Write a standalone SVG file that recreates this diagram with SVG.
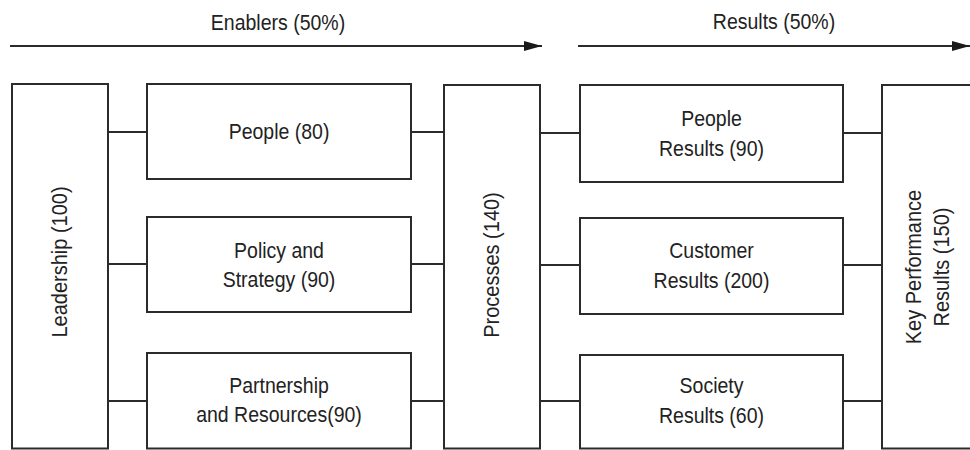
<svg xmlns="http://www.w3.org/2000/svg" width="970" height="450" viewBox="0 0 970 450">
  <style>
    .box { fill: #ffffff; stroke: #2b2b2b; stroke-width: 2; }
    .link { stroke: #2b2b2b; stroke-width: 1.8; fill: none; }
    .axis { stroke: #2b2b2b; stroke-width: 2; fill: none; }
    text { font-family: "Liberation Sans", Arial, sans-serif; font-size: 19.5px; fill: #222222; text-anchor: middle; }
    .vert { font-size: 20px; }
  </style>
  <defs>
    <marker id="head" viewBox="0 0 18 10" refX="18" refY="5" markerWidth="18" markerHeight="10" markerUnits="userSpaceOnUse" orient="auto">
      <path d="M0,0 L18,5 L0,10 Z" fill="#1a1a1a"/>
    </marker>
  </defs>

  <rect width="970" height="450" fill="#ffffff"/>

  <!-- phase arrows -->
  <g id="phase-arrows">
    <line class="axis" x1="10" y1="46" x2="542" y2="46" marker-end="url(#head)"/>
    <text transform="translate(278,30) scale(1,1.12)">Enablers (50%)</text>
    <line class="axis" x1="578" y1="46" x2="970" y2="46" marker-end="url(#head)"/>
    <text transform="translate(774,29) scale(1,1.12)">Results (50%)</text>
  </g>

  <!-- connectors -->
  <g id="connectors">
    <line class="link" x1="108" y1="132" x2="147" y2="132"/>
    <line class="link" x1="108" y1="264" x2="147" y2="264"/>
    <line class="link" x1="108" y1="401" x2="147" y2="401"/>
    <line class="link" x1="411" y1="132" x2="444" y2="132"/>
    <line class="link" x1="411" y1="264" x2="444" y2="264"/>
    <line class="link" x1="411" y1="401" x2="444" y2="401"/>
    <line class="link" x1="540" y1="133" x2="580" y2="133"/>
    <line class="link" x1="540" y1="265" x2="580" y2="265"/>
    <line class="link" x1="540" y1="401" x2="580" y2="401"/>
    <line class="link" x1="843" y1="133" x2="882" y2="133"/>
    <line class="link" x1="843" y1="265" x2="882" y2="265"/>
    <line class="link" x1="843" y1="401" x2="882" y2="401"/>
  </g>

  <g id="leadership">
    <rect class="box" x="12" y="84" width="96" height="364.5"/>
    <text class="vert" transform="translate(67,262) rotate(-90) scale(1,1.14)">Leadership (100)</text>
  </g>

  <g id="people">
    <rect class="box" x="147" y="84" width="264" height="95"/>
    <text transform="translate(279,139) scale(1,1.12)">People (80)</text>
  </g>

  <g id="policy-strategy">
    <rect class="box" x="147" y="217" width="264" height="95"/>
    <text transform="translate(279,258) scale(1,1.12)">Policy and</text>
    <text transform="translate(279,287) scale(1,1.12)">Strategy (90)</text>
  </g>

  <g id="partnership-resources">
    <rect class="box" x="147" y="353" width="264" height="95.5"/>
    <text transform="translate(279,393) scale(1,1.12)">Partnership</text>
    <text transform="translate(279,422) scale(1,1.12)">and Resources(90)</text>
  </g>

  <g id="processes">
    <rect class="box" x="444" y="85" width="96" height="363.5"/>
    <text class="vert" transform="translate(499,265) rotate(-90) scale(1,1.14)">Processes (140)</text>
  </g>

  <g id="people-results">
    <rect class="box" x="580" y="85" width="263" height="97"/>
    <text transform="translate(711.5,126) scale(1,1.12)">People</text>
    <text transform="translate(711.5,156) scale(1,1.12)">Results (90)</text>
  </g>

  <g id="customer-results">
    <rect class="box" x="580" y="218" width="263" height="96"/>
    <text transform="translate(711.5,258) scale(1,1.12)">Customer</text>
    <text transform="translate(711.5,288) scale(1,1.12)">Results (200)</text>
  </g>

  <g id="society-results">
    <rect class="box" x="580" y="355" width="263" height="93.5"/>
    <text transform="translate(711.5,393) scale(1,1.12)">Society</text>
    <text transform="translate(711.5,423) scale(1,1.12)">Results (60)</text>
  </g>

  <g id="key-performance-results">
    <rect class="box" x="882" y="85" width="94" height="363.5"/>
    <text class="vert" transform="translate(921,267) rotate(-90) scale(1,1.14)">Key Performance</text>
    <text class="vert" transform="translate(949,267) rotate(-90) scale(1,1.14)">Results (150)</text>
  </g>
</svg>
